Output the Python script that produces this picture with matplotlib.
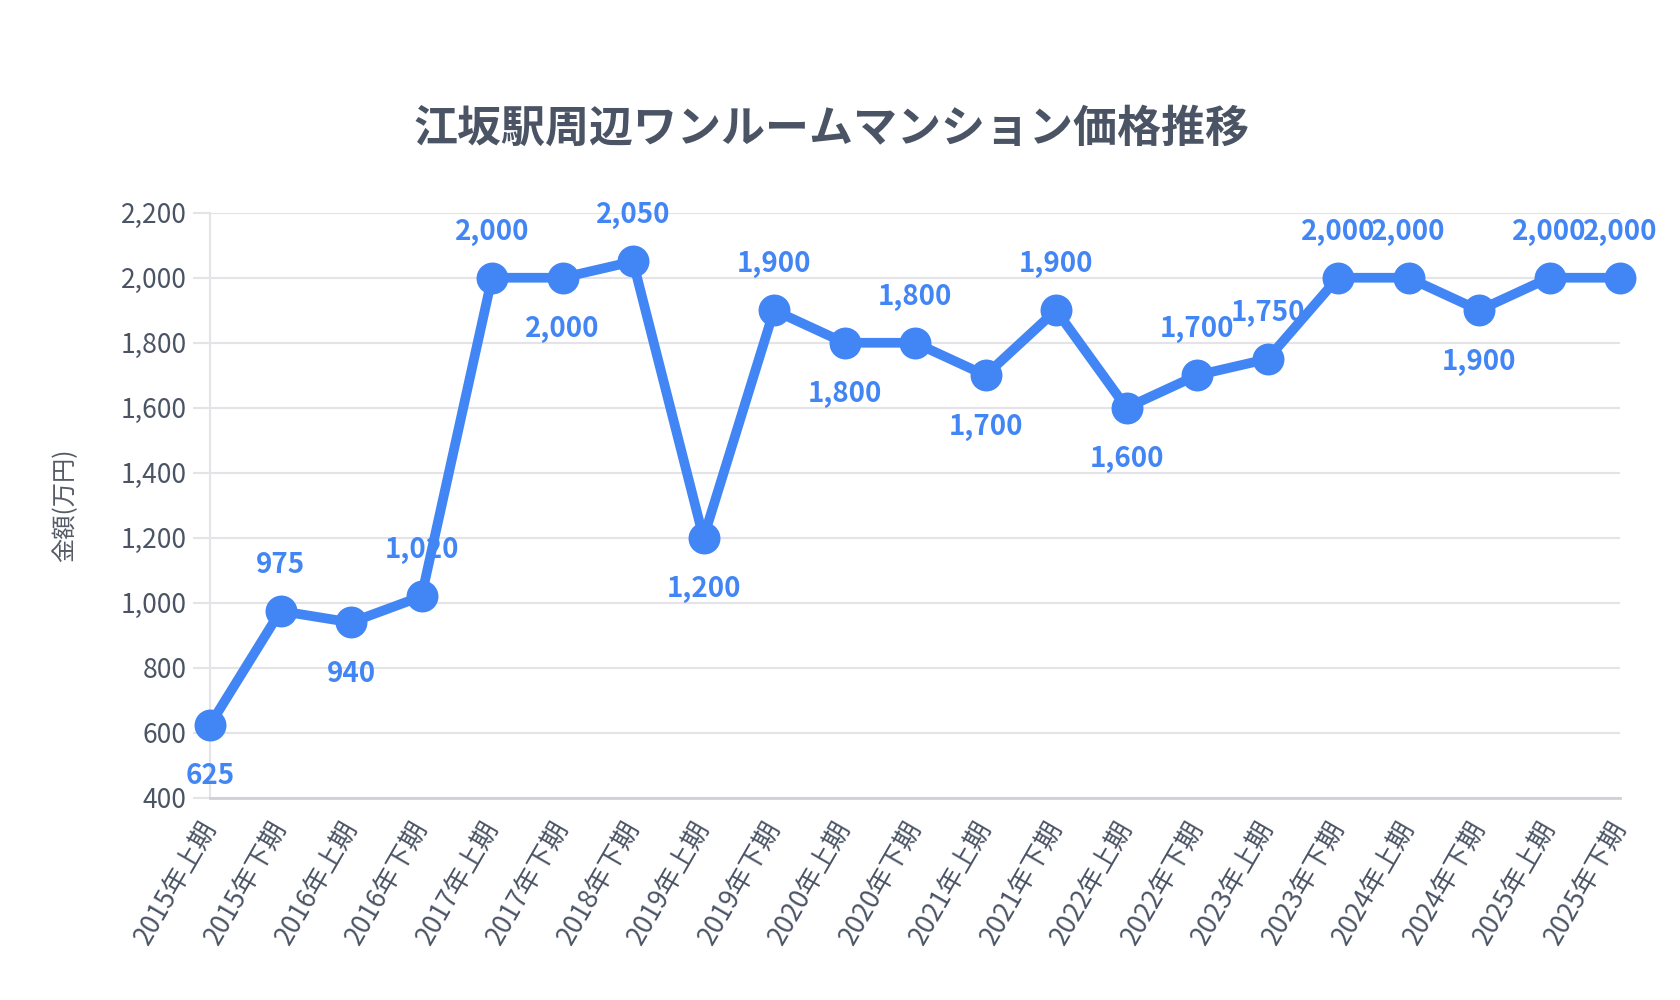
import matplotlib
matplotlib.use("Agg")
import matplotlib.pyplot as plt
from matplotlib.ticker import FuncFormatter, MultipleLocator

plt.rcParams['font.family'] = ['Noto Sans CJK JP', 'DejaVu Sans']

periods = ["2015年上期", "2015年下期", "2016年上期", "2016年下期", "2017年上期",
           "2017年下期", "2018年下期", "2019年上期", "2019年下期", "2020年上期",
           "2020年下期", "2021年上期", "2021年下期", "2022年上期", "2022年下期",
           "2023年上期", "2023年下期", "2024年上期", "2024年下期", "2025年上期",
           "2025年下期"]
prices = [625, 975, 940, 1020, 2000, 2000, 2050, 1200, 1900, 1800,
          1800, 1700, 1900, 1600, 1700, 1750, 2000, 2000, 1900, 2000, 2000]
label_side = [-1, 1, -1, 1, 1, -1, 1, -1, 1, -1,
              1, -1, 1, -1, 1, 1, 1, 1, -1, 1, 1]

title = "江坂駅周辺ワンルームマンション価格推移"
ylabel = "金額(万円)"

blue = "#4285F4"
text_grey = "#4a5465"
grid_grey = "#e3e3e8"

fig = plt.figure(figsize=(16.8, 10), dpi=100)
ax = fig.add_axes([0.125, 0.202, 0.8393, 0.5853])

x = list(range(len(periods)))
ax.plot(x, prices, color=blue, lw=7, marker='o', markersize=23,
        markerfacecolor=blue, markeredgewidth=0, zorder=3, clip_on=False)

for xi, v, s in zip(x, prices, label_side):
    off = 33.2 if s > 0 else -37.1
    ax.annotate(f"{v:,}", (xi, v), xytext=(0, off), textcoords='offset points',
                ha='center', va='center', fontsize=20, fontweight='bold',
                color=blue, zorder=4, annotation_clip=False)

ax.set_xlim(0, len(periods) - 1)
ax.set_ylim(400, 2200)
ax.yaxis.set_major_locator(MultipleLocator(200))
ax.yaxis.set_major_formatter(FuncFormatter(lambda v, p: f"{int(v):,}"))
ax.set_xticks(x)
ax.set_xticklabels(periods, rotation=60, ha='right', va='center',
                   rotation_mode='anchor')

ax.grid(axis='y', color=grid_grey, lw=1.5, zorder=0)
ax.grid(axis='x', visible=False)
for side in ['top', 'right']:
    ax.spines[side].set_visible(False)
ax.spines['left'].set_color(grid_grey)
ax.spines['left'].set_linewidth(1.5)
ax.spines['bottom'].set_color('#cfcfd6')
ax.spines['bottom'].set_linewidth(2)

ax.tick_params(axis='y', length=12, color=grid_grey, width=1.5, pad=5,
               labelsize=19, labelcolor=text_grey)
ax.tick_params(axis='x', length=0, pad=18, labelsize=19, labelcolor=text_grey)

ax.set_ylabel(ylabel, fontsize=17.5, color='#555b66', labelpad=30)

fig.text(0.4948, 0.871, title, ha='center', va='center', fontsize=31.7,
         fontweight='bold', color=text_grey)

fig.savefig("out.png", dpi=100, facecolor='white')
